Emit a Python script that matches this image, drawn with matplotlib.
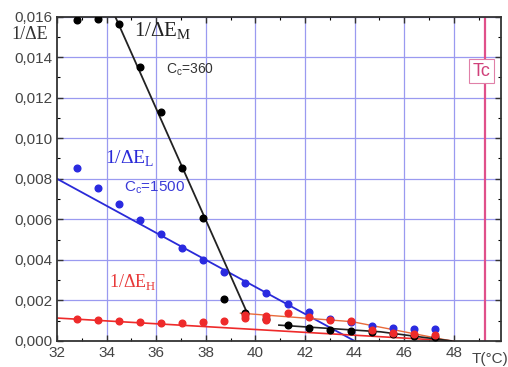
import matplotlib
matplotlib.use("Agg")
import matplotlib.pyplot as plt
from matplotlib.ticker import MultipleLocator, FuncFormatter

# ---- data ----
T = [32.8, 33.65, 34.5, 35.35, 36.2, 37.05, 37.9, 38.75, 39.6, 40.45, 41.3,
     42.15, 43.0, 43.85, 44.7, 45.55, 46.4, 47.25]
inv_M = [0.01582, 0.01590, 0.01562, 0.01353, 0.01128, 0.00853, 0.00607,
         0.00206, 0.00139, 0.00108, 0.00078, 0.00064, 0.00055, 0.00050,
         0.00042, 0.00034, 0.00026, 0.00018]
inv_L = [0.00853, 0.00756, 0.00677, 0.00594, 0.00527, 0.00458, 0.00401,
         0.00338, 0.00286, 0.00236, 0.00183, 0.00143, 0.00109, 0.00093,
         0.00072, 0.00063, 0.00058, 0.00060]
inv_H = [0.00106, 0.00103, 0.00100, 0.00093, 0.00090, 0.00087, 0.00093,
         0.00100, 0.00126, 0.00123, 0.00136, 0.00120, 0.00105, 0.00096,
         0.00053, 0.00038, 0.00033, 0.00030]
inv_H2_T = [39.6, 40.45]
inv_H2 = [0.00112, 0.00103]

fitM_T = [34.35, 39.7]
fitM_v = [0.0160, 0.0013]
fitM2_T = [40.95, 45.05, 47.9]
fitM2_v = [0.00078, 0.00045, 0.0]
fitL_T = [32.0, 44.0]
fitL_v = [0.0080, 0.0]
fitH_T = [32.0, 48.0]
fitH_v = [0.00113, 0.0]
fitH2_T = [39.4, 43.9, 47.9]
fitH2_v = [0.00137, 0.00095, 0.0]

Tc = 49.25
xticks = [32, 34, 36, 38, 40, 42, 44, 46, 48]
yticks = [0.000, 0.002, 0.004, 0.006, 0.008, 0.010, 0.012, 0.014, 0.016]

# ---- plot ----
fig = plt.figure(figsize=(5.08, 3.67), dpi=100)
ax = fig.add_axes([0.112, 0.071, 0.874, 0.884])

grid_c = '#9a9af0'
for x in xticks[1:]:
    ax.axvline(x, color=grid_c, lw=0.9, zorder=0)
for y in yticks[1:]:
    ax.axhline(y, color=grid_c, lw=0.9, zorder=0)

ax.axvline(Tc, color='#e0508a', lw=1.6, zorder=1)

ax.plot(fitL_T, fitL_v, color='#2a2ad8', lw=1.3, zorder=2)
ax.plot(fitH_T, fitH_v, color='#ee2a2a', lw=1.2, zorder=2)
ax.plot(fitH2_T, fitH2_v, color='#e86a3a', lw=1.0, zorder=2)
ax.plot(fitM_T, fitM_v, color='#222222', lw=1.3, zorder=3)
ax.plot(fitM2_T, fitM2_v, color='#222222', lw=1.2, zorder=3)

ax.plot(T, inv_M, 'o', color='black', ms=4.8, zorder=4)
ax.plot(T, inv_L, 'o', color='#2a2ae0', ms=4.8, zorder=4)
ax.plot(T, inv_H, 'o', color='#ee2a2a', ms=4.8, zorder=5)
ax.plot(inv_H2_T, inv_H2, 'o', color='#ee2a2a', ms=4.8, zorder=5)

ax.set_xlim(32, 49.9)
ax.set_ylim(0, 0.016)
ax.set_xticks(xticks)
ax.set_yticks(yticks)
ax.xaxis.set_minor_locator(MultipleLocator(1))
ax.yaxis.set_minor_locator(MultipleLocator(0.001))
ax.yaxis.set_major_formatter(FuncFormatter(lambda v, p: f"{v:.3f}".replace('.', ',')))
ax.tick_params(which='both', direction='in', top=True, right=True)
ax.tick_params(which='major', length=4, width=1.0, labelsize=11, colors='#333333',
               labelcolor='#444444')
ax.tick_params(which='minor', length=2.5, width=0.8)
for lab in ax.get_xticklabels() + ax.get_yticklabels():
    lab.set_fontfamily('Liberation Sans')
for s in ax.spines.values():
    s.set_linewidth(1.3)
    s.set_color('#333333')

serif = 'Liberation Serif'
fig.text(0.022, 0.905, "1/ΔE", fontsize=13, family=serif, color='#333333', va='center')
ax.text(1.016, -0.055, "T(°C)", transform=ax.transAxes, fontsize=11,
        family='Liberation Sans', color='#444444', ha='right', va='center')

ax.text(35.1, 0.0153, r"1/ΔE$_\mathregular{M}$", fontsize=15, family=serif,
        color='#222222', va='center')
ax.text(36.4, 0.01335, r"C$_\mathregular{c}$=360", fontsize=10, family='Liberation Sans',
        color='#333333', va='center')
ax.text(33.95, 0.0090, r"1/ΔE$_\mathregular{L}$", fontsize=14, family=serif,
        color='#2a2ad8', va='center')
ax.text(34.7, 0.00755, r"C$_\mathregular{c}$=1500", fontsize=11, family='Liberation Sans',
        color='#3a3ad8', va='center')
ax.text(34.1, 0.0029, r"1/ΔE$_\mathregular{H}$", fontsize=13, family=serif,
        color='#e83a3a', va='center')

ax.text(49.11, 0.0133, "Tc", fontsize=13, family='Liberation Sans', color='#d0407a',
        ha='center', va='center',
        bbox=dict(boxstyle='square,pad=0.2', fc='white', ec='#e080a8', lw=0.8), zorder=6)

fig.savefig("out.png", dpi=100)
